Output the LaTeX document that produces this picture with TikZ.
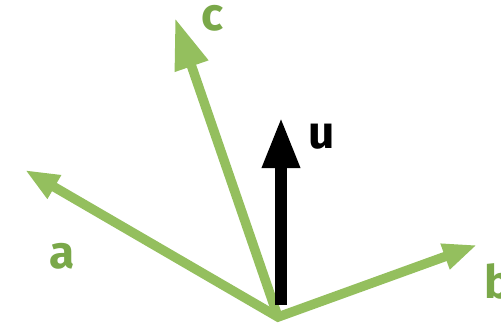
\documentclass[tikz,border=0pt]{standalone}
\usepackage{fontspec}
\setmainfont{Fira Sans}
\usepackage{tikz}
\usetikzlibrary{arrows.meta}
\definecolor{vecgreen}{HTML}{94BF5E}
\definecolor{labelgreen}{HTML}{7AA849}

\begin{document}
\begin{tikzpicture}[x=1pt,y=-1pt,
    vec/.style={line width=9.5pt,vecgreen,line join=miter},
    veclabel/.style={font=\fontsize{46}{46}\bfseries\selectfont,inner sep=0pt}]
  \useasboundingbox (0,0) rectangle (501,329);
  % Points
  \coordinate (O) at (278,317);
  \coordinate (A) at (25,170);
  \coordinate (B) at (477,245);
  \coordinate (C) at (175,18);
  \coordinate (Ubase) at (281,305);
  \coordinate (U) at (281,117);
  % Green vectors
  \draw[vec,{Triangle[length=34pt,width=25pt]}-{Triangle[length=34pt,width=25pt]}] (A) -- (O) -- (B);
  \draw[vec,-{Triangle[length=51pt,width=33pt]}] (O) -- (C);
  % Black vector
  \draw[line width=12pt,black,-{Triangle[length=51pt,width=35pt]}] (Ubase) -- (U);
  % Labels
  \node[veclabel,labelgreen,anchor=base] (la) at (62,268) {a};
  \node[veclabel,labelgreen,anchor=base] (lc) at (213,31) {c};
  \node[veclabel,black,anchor=base] (lu) at (322,148) {u};
  \node[veclabel,labelgreen,anchor=base west] (lb) at (484,298) {b};
\end{tikzpicture}
\end{document}
